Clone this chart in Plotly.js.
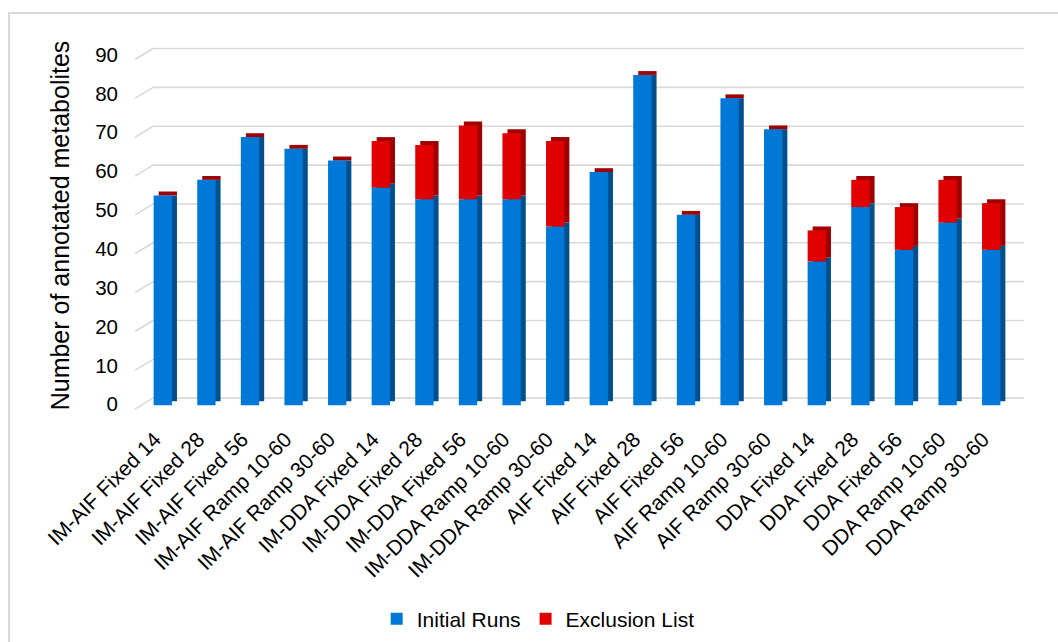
<!DOCTYPE html>
<html>
<head>
<meta charset="utf-8">
<script src="https://cdn.plot.ly/plotly-3.0.1.min.js"></script>
<style>
  html, body { margin: 0; padding: 0; background: #ffffff; overflow: hidden; }
  #wrap { position: relative; width: 1058px; height: 642px; }
  #chart { position: absolute; left: 0; top: 0; width: 1058px; height: 642px; }
  #frame { position: absolute; left: 8px; top: 12px; width: 1200px; height: 800px;
           border-left: 2px solid #d9d9d9; border-top: 2px solid #d9d9d9; pointer-events: none; }
</style>
</head>
<body>
<div id="wrap">
  <div id="chart"></div>
  <div id="frame"></div>
</div>
<script>
// ---- data ----
const categories = [
  "IM-AIF Fixed 14", "IM-AIF Fixed 28", "IM-AIF Fixed 56", "IM-AIF Ramp 10-60", "IM-AIF Ramp 30-60",
  "IM-DDA Fixed 14", "IM-DDA Fixed 28", "IM-DDA Fixed 56", "IM-DDA Ramp 10-60", "IM-DDA Ramp 30-60",
  "AIF Fixed 14", "AIF Fixed 28", "AIF Fixed 56", "AIF Ramp 10-60", "AIF Ramp 30-60",
  "DDA Fixed 14", "DDA Fixed 28", "DDA Fixed 56", "DDA Ramp 10-60", "DDA Ramp 30-60"
];
const initialRuns   = [54, 58, 69, 66, 63, 56, 53, 53, 53, 46, 60, 85, 49, 79, 71, 37, 51, 40, 47, 40];
const exclusionList = [ 0,  0,  0,  0,  0, 12, 14, 19, 17, 22,  0,  0,  0,  0,  0,  8,  7, 11, 11, 12];
const yTickValues   = [0, 10, 20, 30, 40, 50, 60, 70, 80, 90];
const seriesNames   = ["Initial Runs", "Exclusion List"];

// ---- style ----
const FONT = "Liberation Sans, Arial, sans-serif";
const BLUE = "#0078d7", BLUE_DARK = "#00508e";
const RED = "#e00000", RED_DARK = "#a00000";
const GRID = "#d9d9d9";
const BAR_W = 0.42;          // bar width in category units
const DEPTH_X = 0.115;       // 3-D depth shift, category units
const DEPTH_Y = 1.0;         // 3-D depth shift, value units

// derived pieces for the pseudo 3-D look (computed from the data arrays)
const totals = initialRuns.map((v, i) => v + exclusionList[i]);
const blueDepthTop = initialRuns.map((v, i) => v + Math.min(exclusionList[i], DEPTH_Y));
const blueDepthBase = categories.map(() => DEPTH_Y);
const blueDepthLen = blueDepthTop.map(v => v - DEPTH_Y);
const redDepthLen = totals.map((t, i) => t + DEPTH_Y - blueDepthTop[i]);

const common = {
  type: "bar", x: categories, width: categories.map(() => BAR_W),
  hoverinfo: "skip"
};

const traces = [
  Object.assign({}, common, {
    y: blueDepthLen, base: blueDepthBase, offset: -BAR_W / 2 + DEPTH_X,
    marker: { color: BLUE_DARK, line: { width: 0 } }, showlegend: false
  }),
  Object.assign({}, common, {
    y: redDepthLen, base: blueDepthTop, offset: -BAR_W / 2 + DEPTH_X,
    marker: { color: RED_DARK, line: { width: 0 } }, showlegend: false
  }),
  Object.assign({}, common, {
    name: seriesNames[0], y: initialRuns, base: categories.map(() => 0), offset: -BAR_W / 2,
    marker: { color: BLUE, line: { width: 0 } }
  }),
  Object.assign({}, common, {
    name: seriesNames[1], y: exclusionList, base: initialRuns, offset: -BAR_W / 2,
    marker: { color: RED, line: { width: 0 } }
  })
];

// back-wall gridlines (shifted up/right) and the short floor/side diagonals
const shapes = [];
yTickValues.forEach(t => {
  shapes.push({
    type: "line", layer: "below", xref: "paper", yref: "y",
    xsizemode: "pixel", xanchor: 0, x0: 12, x1: 883,
    ysizemode: "pixel", yanchor: t, y0: 7, y1: 7,
    line: { color: GRID, width: 1.6 }
  });
  shapes.push({
    type: "line", layer: "below", xref: "paper", yref: "y",
    xsizemode: "pixel", xanchor: 0, x0: -6, x1: 12,
    ysizemode: "pixel", yanchor: t, y0: -4, y1: 7,
    line: { color: GRID, width: 1.6 }
  });
});

const layout = {
  width: 1058, height: 642,
  margin: { l: 141, r: 45, t: 40, b: 231, pad: 0, autoexpand: false },
  paper_bgcolor: "#ffffff", plot_bgcolor: "rgba(0,0,0,0)",
  barmode: "overlay",
  font: { family: FONT, color: "#000000" },
  showlegend: true,
  legend: {
    orientation: "h", x: 0.4555, xanchor: "center", y: -0.561, yanchor: "middle",
    font: { family: FONT, size: 21, color: "#000000" },
    traceorder: "normal", itemclick: false, itemdoubleclick: false
  },
  xaxis: {
    type: "category", range: [-0.5, categories.length - 0.5],
    showgrid: false, zeroline: false, showline: false,
    ticks: "", tickangle: -45, automargin: false, ticklabelstandoff: 11, ticklabelshift: -8,
    tickfont: { family: FONT, size: 21, color: "#000000" }
  },
  yaxis: {
    range: [-1.5, 94], tickvals: yTickValues, ticktext: yTickValues.map(String),
    showgrid: false, zeroline: false, showline: false,
    ticks: "", ticklabelstandoff: 22, ticklabelshift: -1, automargin: false,
    tickfont: { family: FONT, size: 20.5, color: "#000000" },
    title: { text: "Number of annotated metabolites", standoff: 18,
             font: { family: FONT, size: 25, color: "#000000" } }
  },
  shapes: shapes,
  hovermode: false
};

Plotly.newPlot("chart", traces, layout, { staticPlot: true, displayModeBar: false });
</script>
</body>
</html>
